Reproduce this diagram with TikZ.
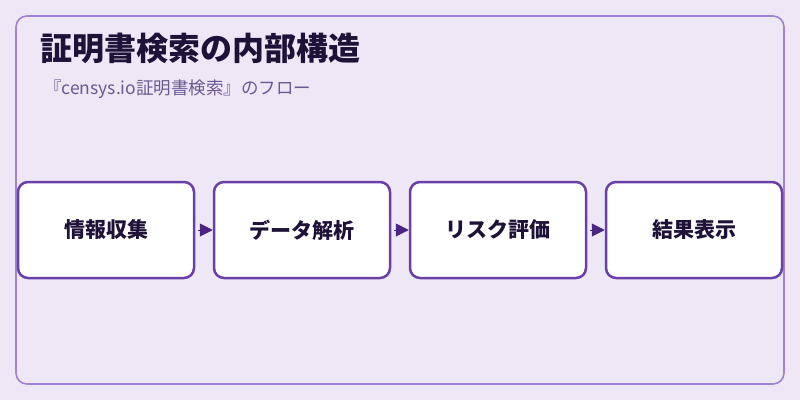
\documentclass[tikz,border=0pt]{standalone}
\usepackage{fontspec}
\setmainfont{Noto Sans CJK JP}
\usetikzlibrary{positioning,arrows.meta}
\definecolor{bg}{HTML}{EDE7F6}
\definecolor{frame}{HTML}{9F82D2}
\definecolor{boxline}{HTML}{6A40A8}
\definecolor{tip}{HTML}{4B2585}
\definecolor{ink}{HTML}{1F1238}
\definecolor{sub}{HTML}{6B5A92}

\begin{document}
\begin{tikzpicture}[x=1pt, y=-1pt, node distance=17.5pt, b/.style={rectangle, rounded corners=10pt, draw=boxline, line width=2.5pt, fill=white, minimum width=176pt, minimum height=96pt, text=ink, font=\fontsize{21}{25}\selectfont\bfseries}, a/.style={tip, line width=1pt, shorten <=3pt, -{Triangle[length=13pt,width=13pt]}}]
		\fill[bg] (0,0) rectangle (800,400);
		\draw[frame, line width=1.6pt, rounded corners=11pt] (16,16) rectangle (784,384);
		\node[anchor=base west, inner sep=0, text=ink, font=\fontsize{32}{38}\selectfont\bfseries] (T) at (40,60) {証明書検索の内部構造};
		\node[anchor=base west, inner sep=0, text=sub, font=\fontsize{17.5}{21}\selectfont] (S) at (44,94) {『censys.io証明書検索』のフロー};
		\node[b] (A) at (106,230) {情報収集};
		\node[b, right=of A] (B) {データ解析};
		\node[b, right=of B] (C) {リスク評価};
		\node[b, right=of C] (D) {結果表示};

		\path[a] (A) edge (B);
		\path[a] (B) edge (C);
		\path[a] (C) edge (D);
	\end{tikzpicture}
\end{document}
